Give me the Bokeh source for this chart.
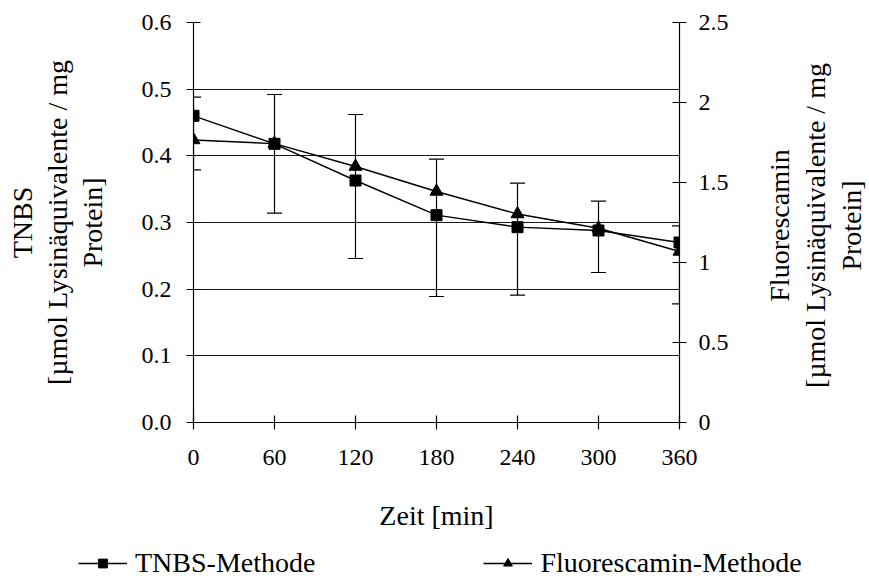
import math
from bokeh.plotting import figure
from bokeh.layouts import column, row
from bokeh.models import (Range1d, LinearAxis, FixedTicker, Legend, LegendItem,
                          Whisker, TeeHead, ColumnDataSource)
from bokeh.core.properties import value
from bokeh.embed import file_html
from bokeh.resources import INLINE

# ---- data ----
time_min = [0, 60, 120, 180, 240, 300, 360]
tnbs = [0.460, 0.418, 0.363, 0.311, 0.293, 0.288, 0.270]
tnbs_upper = [0.488, 0.492, 0.462, 0.395, 0.359, 0.332, 0.295]
tnbs_lower = [0.379, 0.314, 0.246, 0.189, 0.191, 0.225, 0.178]
fluorescamin = [1.766, 1.743, 1.600, 1.444, 1.303, 1.214, 1.069]

x_ticks = [0, 60, 120, 180, 240, 300, 360]
left_ticks = [0.0, 0.1, 0.2, 0.3, 0.4, 0.5, 0.6]
left_labels = ["0.0", "0.1", "0.2", "0.3", "0.4", "0.5", "0.6"]
right_ticks = [0.0, 0.5, 1.0, 1.5, 2.0, 2.5]
right_labels = ["0", "0.5", "1", "1.5", "2", "2.5"]

left_title = "TNBS\n[µmol Lysinäquivalente / mg\nProtein]"
right_title = "Fluorescamin\n[µmol Lysinäquivalente / mg\nProtein]"
x_title = "Zeit [min]"
series_names = ["TNBS-Methode", "Fluorescamin-Methode"]

FONT = "Liberation Serif"
W_MAIN, W_SIDE, H_MAIN, H_LEG = 745, 124, 540, 41


def no_align(fig):
    if "frame_align" in fig.properties():
        fig.frame_align = False


# ---- main chart ----
p = figure(width=W_MAIN, height=H_MAIN, output_backend="svg", toolbar_location=None,
           x_range=Range1d(0, 360), y_range=Range1d(0, 0.6),
           min_border_left=193, min_border_right=W_MAIN - 679,
           min_border_top=22, min_border_bottom=H_MAIN - 422)
no_align(p)
p.extra_y_ranges = {"right": Range1d(0, 2.5)}
p.outline_line_color = None
p.background_fill_color = "white"
p.border_fill_color = "white"

p.xgrid.grid_line_color = None
p.ygrid.grid_line_color = "#1a1a1a"
p.ygrid.grid_line_width = 1
p.ygrid.ticker = FixedTicker(ticks=left_ticks)

xa = p.xaxis[0]
xa.ticker = FixedTicker(ticks=x_ticks)
xa.axis_label = x_title
ya = p.yaxis[0]
ya.ticker = FixedTicker(ticks=left_ticks)
ya.major_label_overrides = {t: l for t, l in zip(left_ticks, left_labels)}
ya.axis_label = left_title

ra = LinearAxis(y_range_name="right", ticker=FixedTicker(ticks=right_ticks))
ra.major_label_overrides = {t: l for t, l in zip(right_ticks, right_labels)}
p.add_layout(ra, "right")

for ax in (xa, ya, ra):
    ax.axis_line_color = "black"
    ax.axis_line_width = 1.2
    ax.major_tick_line_color = "black"
    ax.major_tick_line_width = 1.2
    ax.major_tick_in = 7
    ax.major_tick_out = 7
    ax.minor_tick_line_color = None
    ax.major_label_text_font = FONT
    ax.major_label_text_font_size = "24px"
    ax.major_label_text_color = "black"
    ax.axis_label_text_font = FONT
    ax.axis_label_text_font_size = "28px"
    ax.axis_label_text_font_style = "normal"
    ax.axis_label_text_color = "black"
    ax.axis_label_text_line_height = 1.12

xa.major_label_standoff = 20
xa.axis_label_standoff = 32
ya.major_label_standoff = 15
ya.axis_label_standoff = 31
ra.major_label_standoff = 12

src = ColumnDataSource(dict(t=time_min, up=tnbs_upper, lo=tnbs_lower))
wh = Whisker(base="t", upper="up", lower="lo", source=src, dimension="height",
             line_color="black", line_width=1.2,
             upper_head=TeeHead(size=15, line_color="black", line_width=1.2),
             lower_head=TeeHead(size=15, line_color="black", line_width=1.2))
p.add_layout(wh)

p.line(time_min, tnbs, line_color="black", line_width=1.4)
p.scatter(time_min, tnbs, marker="square", size=11,
          fill_color="black", line_color="black")
p.line(time_min, fluorescamin, line_color="black", line_width=1.4,
       y_range_name="right")
p.scatter(time_min, fluorescamin, marker="triangle", size=13,
          fill_color="black", line_color="black", y_range_name="right")

# ---- right axis title strip ----
r = figure(width=W_SIDE, height=H_MAIN, output_backend="svg", toolbar_location=None,
           x_range=Range1d(0, W_SIDE), y_range=Range1d(0, H_MAIN),
           x_axis_type=None, y_axis_type=None,
           min_border=0, min_border_left=0, min_border_right=0,
           min_border_top=0, min_border_bottom=0)
no_align(r)
r.grid.visible = False
r.outline_line_color = None
r.border_fill_color = "white"
r.background_fill_color = "white"
r.text(x=[815 - W_MAIN], y=[H_MAIN - 225], text=[right_title], angle=math.pi / 2,
       text_align="center", text_baseline="middle", text_color="black",
       text_font=value(FONT), text_font_size="28px", text_line_height=1.16)

# ---- legend strip ----
q = figure(width=W_MAIN + W_SIDE, height=H_LEG, output_backend="svg",
           toolbar_location=None, x_range=Range1d(0, 1), y_range=Range1d(0, 1),
           x_axis_type=None, y_axis_type=None,
           min_border=0, min_border_left=0, min_border_right=0,
           min_border_top=0, min_border_bottom=0)
no_align(q)
q.grid.visible = False
q.outline_line_color = None
q.border_fill_color = "white"
q.background_fill_color = "white"
lq1 = q.line(time_min, tnbs, line_color="black", line_width=1.4, visible=False)
mq1 = q.scatter(time_min, tnbs, marker="square", size=11,
                fill_color="black", line_color="black", visible=False)
lq2 = q.line(time_min, fluorescamin, line_color="black", line_width=1.4, visible=False)
mq2 = q.scatter(time_min, fluorescamin, marker="triangle", size=13,
                fill_color="black", line_color="black", visible=False)

legend = Legend(items=[LegendItem(label=series_names[0], renderers=[lq1, mq1]),
                       LegendItem(label=series_names[1], renderers=[lq2, mq2])],
                location=(78, 2), orientation="horizontal",
                glyph_width=49, glyph_height=22, label_standoff=8, spacing=168,
                padding=0, margin=0, border_line_alpha=0,
                background_fill_alpha=0, inactive_fill_alpha=0,
                label_text_font=FONT, label_text_font_size="28px",
                label_text_color="black")
q.add_layout(legend)

layout = column(row(p, r, spacing=0), q, spacing=0)
open("out.html", "w").write(file_html(layout, INLINE))
